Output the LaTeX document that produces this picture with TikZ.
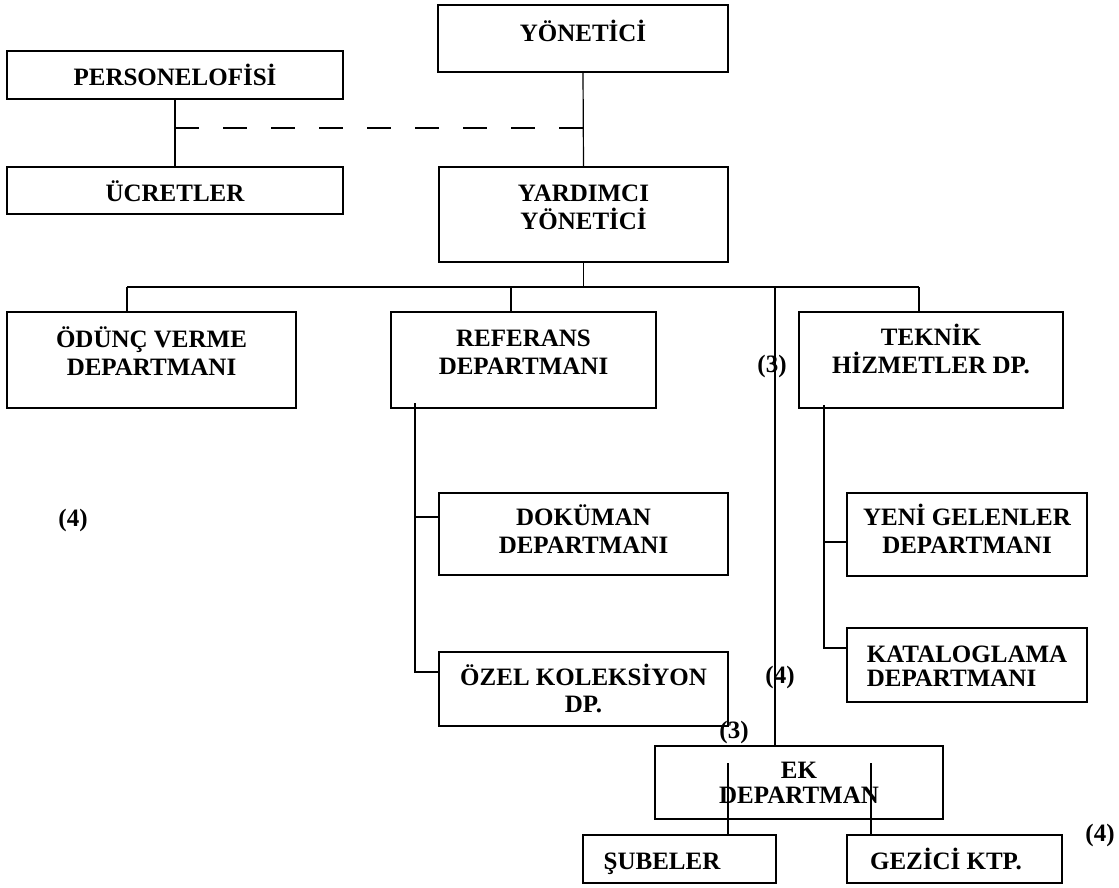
\documentclass[tikz,border=0pt]{standalone}
\usepackage{fontspec}
\setmainfont{Liberation Serif}
\tikzset{
  kutu/.style={draw, line width=1.6pt, outer sep=0pt, inner ysep=0pt, align=center,
    anchor=north west, font=\bfseries\fontsize{25}{28.75}\selectfont},
  cizgi/.style={line width=1.2pt},
  hat/.style={line width=1.7pt},
  kesikli/.style={line width=1.3pt, dash pattern=on 24pt off 24pt},
  numara/.style={font=\bfseries\fontsize{25}{30}\selectfont, inner sep=0pt},
}
\begin{document}
\begin{tikzpicture}[x=1pt,y=-1pt]
\useasboundingbox (0,0) rectangle (1119,887);

% ust kisim
\node[kutu, minimum width=290pt, text height=36pt, text depth=31pt] (yonetici) at (438,5) {YÖNETİCİ};
\node[kutu, minimum width=336pt, text height=34pt, text depth=14pt] (personel) at (7,51) {PERSONELOFİSİ};
\node[kutu, minimum width=336pt, text height=34pt, text depth=13pt] (ucretler) at (7,167) {ÜCRETLER};
\node[kutu, minimum width=289pt, text height=62.75pt, text depth=32.25pt] (yardimci) at (439,167) {YARDIMCI\\YÖNETİCİ};

% departmanlar
\node[kutu, minimum width=289pt, text height=63.75pt, text depth=32.25pt] (odunc) at (7,312) {ÖDÜNÇ VERME\\DEPARTMANI};
\node[kutu, minimum width=265pt, text height=62.75pt, text depth=33.25pt] (referans) at (391,312) {REFERANS\\DEPARTMANI};
\node[kutu, minimum width=264pt, text height=61.75pt, text depth=34.25pt] (teknik) at (799,312) {TEKNİK\\HİZMETLER DP.};

\node[kutu, minimum width=289pt, text height=60.75pt, text depth=21.25pt] (dokuman) at (439,493) {DOKÜMAN\\DEPARTMANI};
\node[kutu, minimum width=289pt, text height=60pt, text depth=14pt,
  font=\bfseries\fontsize{25}{27}\selectfont] (ozel) at (439,652) {ÖZEL KOLEKSİYON\\DP.};
\node[kutu, minimum width=240pt, text height=60.75pt, text depth=22.25pt] (yeni) at (847,493) {YENİ GELENLER\\DEPARTMANI};
\node[kutu, minimum width=240pt, text height=58pt, text depth=16pt, align=left,
  font=\bfseries\fontsize{25}{24}\selectfont] (katalog) at (847,628) {KATALOGLAMA\\DEPARTMANI};

% ek departman
\node[kutu, minimum width=288pt, text height=57pt, text depth=16pt,
  font=\bfseries\fontsize{25}{25}\selectfont] (ek) at (655,746) {EK\\DEPARTMAN};
\node[kutu, minimum width=193pt, text height=34pt, text depth=14pt] (subeler) at (583,835) {ŞUBELER\hspace*{35pt}};
\node[kutu, minimum width=215pt, text height=34pt, text depth=14pt] (gezici) at (847,835) {GEZİCİ KTP.\hspace*{17pt}};

% baglantilar
\draw[cizgi] (yonetici.south) -- (yardimci.north);
\draw[cizgi] (personel.south) -- (ucretler.north);
\draw[kesikli] ([yshift=-29pt]personel.south) -- ([yshift=-29pt]personel.south -| yonetici.south);

\draw[cizgi] (yardimci.south) -- ++(0,25) coordinate (bus);
\draw[cizgi] ([xshift=-24.5pt]odunc.north) -- ++(0,-25) coordinate (b1);
\draw[cizgi] ([xshift=-12.5pt]referans.north) -- ++(0,-25);
\draw[cizgi] ([xshift=-12pt]teknik.north) -- ++(0,-25) coordinate (b2);
\draw[hat] (b1) -- (b2);
\draw[cizgi] ([xshift=-24pt]ek.north) -- ([xshift=-24pt]ek.north |- bus);

\draw[cizgi] ([xshift=-108.5pt,yshift=5pt]referans.south) coordinate (r) |- ([yshift=17pt]ozel.west);
\draw[cizgi] ([yshift=17pt]dokuman.west) -- ([yshift=17pt]dokuman.west -| r);
\draw[cizgi] ([xshift=-107pt,yshift=3pt]teknik.south) coordinate (t) |- ([yshift=17pt]katalog.west);
\draw[cizgi] ([yshift=-7.5pt]yeni.west) -- ([yshift=-7.5pt]yeni.west -| t);

\draw[cizgi] ([xshift=48.5pt]subeler.north) -- ++(0,-72);
\draw[cizgi] ([xshift=-83.5pt]gezici.north) -- ++(0,-72);

% numaralar
\node[numara] (n3a) at (772,366) {(3)};
\node[numara] (n4a) at (73,520) {(4)};
\node[numara] (n4b) at (780,677) {(4)};
\node[numara] (n3b) at (734,732) {(3)};
\node[numara] (n4c) at (1100,835) {(4)};
\end{tikzpicture}
\end{document}
